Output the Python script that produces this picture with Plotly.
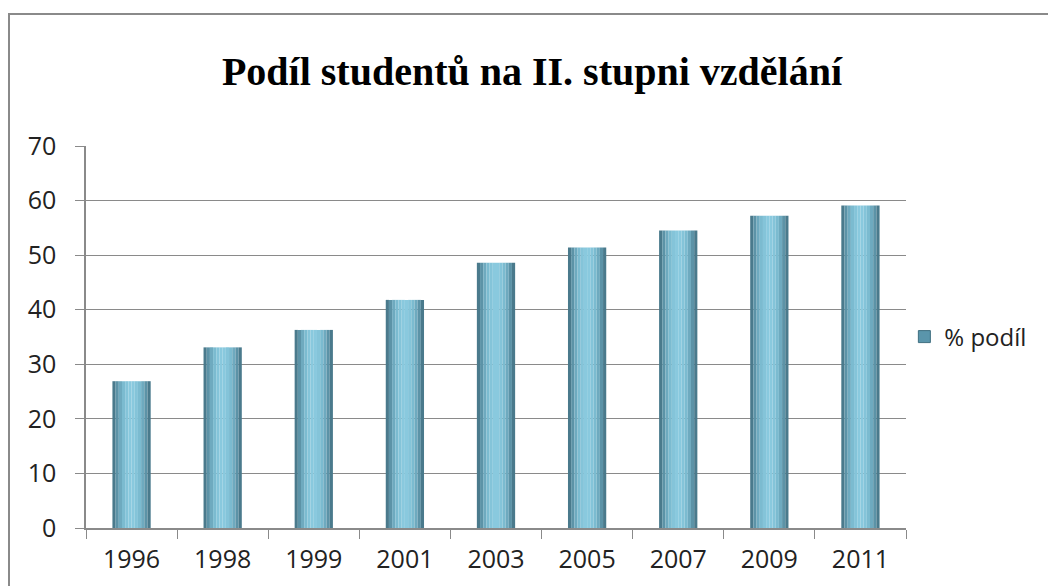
import plotly.graph_objects as go

years = ["1996", "1998", "1999", "2001", "2003", "2005", "2007", "2009", "2011"]
podil = [26.9, 33.1, 36.3, 41.8, 48.6, 51.4, 54.5, 57.2, 59.1]
series_name = "% podíl"
title_text = "Podíl studentů na II. stupni vzdělání"

# horizontal "cylinder" shading: strips across each bar
strip_colors = ["#4a7a8c", "#5c93a7", "#6eaabf", "#7bbbd0", "#84c4d9", "#89c9de",
                "#89c9de", "#84c4d9", "#7bbbd0", "#6eaabf", "#5c93a7", "#4a7a8c"]
bar_w = 0.42
n = len(strip_colors)
sw = bar_w / n

fig = go.Figure()
for i, c in enumerate(strip_colors):
    fig.add_trace(go.Bar(
        x=years, y=podil,
        width=sw, offset=-bar_w / 2 + i * sw,
        marker=dict(color=c, line=dict(width=0)),
        name=series_name,
        showlegend=False,
        legendgroup="g",
        hoverinfo="skip",
    ))
# legend entry
fig.add_trace(go.Bar(x=[years[0]], y=[None], name=series_name, legendgroup="g",
                     marker=dict(color="#5a95ab", line=dict(color="#3f6f80", width=1)),
                     showlegend=True))

W, H = 1048, 578
fig.update_layout(
    width=W, height=H,
    paper_bgcolor="white", plot_bgcolor="white",
    margin=dict(l=78, r=150, t=138, b=58),
    barmode="overlay",
    title=dict(text="<b>" + title_text + "</b>", x=0.5, xanchor="center",
               y=1 - 63 / H, yanchor="middle",
               font=dict(family="Liberation Serif", size=40, color="black")),
    font=dict(family="Open Sans", size=25, color="#222"),
    showlegend=True,
    legend=dict(x=0.998, y=0.5, xanchor="left", yanchor="middle",
                font=dict(size=24, color="#222"), itemwidth=30,
                bgcolor="rgba(0,0,0,0)"),
    xaxis=dict(type="category", showline=True, linecolor="#8a8a8a", linewidth=1.5,
               ticks="outside", tickson="boundaries", ticklen=9, tickcolor="#8a8a8a",
               showgrid=False, tickfont=dict(size=25, color="#222"),
               ticklabelstandoff=8),
    yaxis=dict(range=[0, 70], dtick=10, showline=True, linecolor="#8a8a8a", linewidth=1.5,
               ticks="outside", ticklen=9, tickcolor="#8a8a8a",
               gridcolor="#8a8a8a", gridwidth=1.2, zeroline=False,
               tickfont=dict(size=25, color="#222"), ticklabelstandoff=14),
)

# outer chart frame (top and left edges visible in reference)
fig.add_shape(type="rect", xref="paper", yref="paper",
              x0=(1 - 78) / 820, x1=(1060 - 78) / 820,
              y0=(520 - 600) / 382, y1=(520 - 6) / 382,
              line=dict(color="#8a8a8a", width=2), fillcolor="rgba(0,0,0,0)", layer="below")

fig.write_html("out.html")
